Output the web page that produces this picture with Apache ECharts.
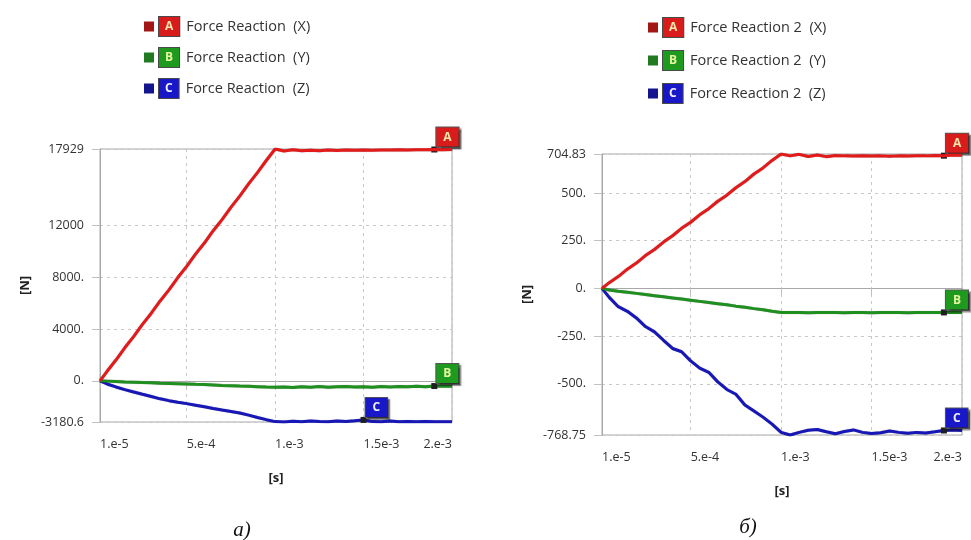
<!DOCTYPE html>
<html>
<head>
<meta charset="utf-8">
<script src="https://cdn.jsdelivr.net/npm/echarts@6/dist/echarts.min.js"></script>
<style>
  html, body { margin: 0; padding: 0; background: #ffffff; }
  #chart { width: 971px; height: 540px; }
</style>
</head>
<body>
<div id="chart"></div>
<script>
// Sample times [s]
const timeS = [
  1e-5, 5e-5, 1e-4, 1.5e-4, 2e-4, 2.5e-4, 3e-4, 3.5e-4, 4e-4, 4.5e-4,
  5e-4, 5.5e-4, 6e-4, 6.5e-4, 7e-4, 7.5e-4, 8e-4, 8.5e-4, 9e-4, 9.5e-4,
  1e-3, 1.05e-3, 1.1e-3, 1.15e-3, 1.2e-3, 1.25e-3, 1.3e-3, 1.35e-3, 1.4e-3, 1.45e-3,
  1.5e-3, 1.55e-3, 1.6e-3, 1.65e-3, 1.7e-3, 1.75e-3, 1.8e-3, 1.85e-3, 1.9e-3, 1.95e-3,
  2e-3
];

// Force Reaction [N]
const reaction1X = [
  0, 740, 1610, 2560, 3420, 4370, 5230, 6180, 7040, 7990,
  8850, 9800, 10660, 11610, 12470, 13420, 14290, 15230, 16100, 17040,
  17929, 17780, 17870, 17790, 17840, 17800, 17850, 17820, 17860, 17830,
  17850, 17840, 17860, 17850, 17870, 17860, 17880, 17870, 17890, 17880,
  17890
];
const reaction1Y = [
  0, -20, -50, -80, -100, -130, -150, -180, -200, -220,
  -240, -270, -290, -320, -350, -370, -400, -420, -450, -480,
  -500, -470, -510, -450, -490, -440, -500, -460, -430, -480,
  -450, -500, -440, -470, -430, -460, -420, -450, -400, -420,
  -410
];
const reaction1Z = [
  0, -240, -470, -680, -860, -1040, -1210, -1390, -1530, -1650,
  -1760, -1880, -2000, -2140, -2260, -2370, -2490, -2650, -2830, -3000,
  -3150, -3180.6, -3120, -3160, -3100, -3140, -3170, -3110, -3150, -3090,
  -3020, -3150, -3170, -3100, -3160, -3140, -3170, -3150, -3170, -3160,
  -3170
];

// Force Reaction 2 [N]
const reaction2X = [
  0, 30, 62, 101, 133, 172, 204, 243, 276, 315,
  347, 386, 418, 457, 489, 528, 560, 600, 632, 671,
  704.83, 695, 703, 692, 700, 691, 697, 695, 694, 696,
  694, 695, 693, 695, 694, 696, 695, 697, 696, 699,
  698
];
const reaction2Y = [
  0, -8, -15, -20, -26, -32, -38, -44, -50, -56,
  -62, -68, -74, -80, -86, -93, -99, -106, -112, -120,
  -126, -127, -126, -128, -127, -126, -127, -128, -126, -127,
  -128, -127, -126, -127, -128, -127, -126, -127, -126, -125,
  -126
];
const reaction2Z = [
  0, -47, -96, -120, -155, -200, -228, -272, -315, -332,
  -380, -418, -440, -490, -530, -555, -611, -643, -675, -712,
  -755, -768.75, -755, -744, -740, -752, -762, -750, -742, -755,
  -761, -757, -748, -755, -760, -755, -758, -752, -745, -742,
  -745
];

// Series names and probe letters
const seriesNames1 = ['Force Reaction  (X)', 'Force Reaction  (Y)', 'Force Reaction  (Z)'];
const seriesNames2 = ['Force Reaction 2  (X)', 'Force Reaction 2  (Y)', 'Force Reaction 2  (Z)'];
const probeLetters = ['A', 'B', 'C'];
// sample index where each probe tag sits
const probeIndex1 = [38, 38, 30];
const probeIndex2 = [38, 38, 38];

// Axis ticks and labels
const xTickValues = [1e-5, 5e-4, 1e-3, 1.5e-3, 2e-3];
const xTickLabels = ['1.e-5', '5.e-4', '1.e-3', '1.5e-3', '2.e-3'];
const yTickValues1 = [-3180.6, 0, 4000, 8000, 12000, 17929];
const yTickLabels1 = ['-3180.6', '0.', '4000.', '8000.', '12000', '17929'];
const yTickValues2 = [-768.75, -500, -250, 0, 250, 500, 704.83];
const yTickLabels2 = ['-768.75', '-500.', '-250.', '0.', '250.', '500.', '704.83'];

const captions = ['а)', 'б)'];

// Colours
const lineColors = ['#e41a1a', '#1f8f1f', '#1717b8'];
const iconColors = ['#a31616', '#217a21', '#14148f'];
const boxColors = ['#d81c1c', '#1e9a1e', '#1818c8'];
const boxText = ['#f6e7a6', '#e8f5a0', '#f0f0ff'];
const uiFont = '"Open Sans", "Noto Sans", sans-serif';

function labelFor(values, labels) {
  return function (v) {
    let best = 0;
    for (let i = 1; i < values.length; i++) {
      if (Math.abs(values[i] - v) < Math.abs(values[best] - v)) best = i;
    }
    return labels[best];
  };
}

const boxRich = {};
probeLetters.forEach((L, i) => {
  boxRich['b' + L] = {
    backgroundColor: boxColors[i], color: boxText[i],
    fontSize: 12, fontWeight: 'bold', fontFamily: uiFont,
    padding: [4, 6, 3, 6], borderColor: '#4a4a4a', borderWidth: 1
  };
});

function makeLegend(names, left, top, gap) {
  return {
    orient: 'vertical', left: left, top: top,
    itemGap: gap, itemWidth: 10, itemHeight: 10, icon: 'rect',
    selectedMode: false,
    data: names.map((n, i) => ({ name: n, itemStyle: { color: iconColors[i] } })),
    formatter: function (name) {
      const i = names.indexOf(name);
      return '{b' + probeLetters[i] + '|' + probeLetters[i] + '}{t|' + name + '}';
    },
    textStyle: {
      rich: Object.assign({}, boxRich, {
        t: { fontSize: 14.5, color: '#333', fontFamily: uiFont, padding: [0, 0, 0, 7] }
      })
    }
  };
}

function makeXAxis(gi) {
  return {
    type: 'value', gridIndex: gi, min: 1e-5, max: 2e-3,
    name: '[s]', nameLocation: 'middle', nameGap: 50,
    nameTextStyle: { fontSize: 13, fontWeight: 'bold', color: '#222', fontFamily: uiFont },
    axisLine: { show: true, lineStyle: { color: '#a8a8a8' } },
    axisTick: { show: true, length: 8, lineStyle: { color: '#c0c0c0' }, customValues: xTickValues },
    axisLabel: {
      customValues: xTickValues, align: 'left', alignMaxLabel: 'right',
      margin: 16, fontSize: 12.5, color: '#333', fontFamily: uiFont,
      formatter: labelFor(xTickValues, xTickLabels)
    },
    splitLine: { show: true, lineStyle: { color: '#c8c8c8', type: [3, 4] } }
  };
}

function makeYAxis(gi, vals, labels) {
  return {
    type: 'value', gridIndex: gi, min: vals[0], max: vals[vals.length - 1],
    name: '[N]', nameLocation: 'middle', nameGap: 68, nameRotate: 90,
    nameTextStyle: { fontSize: 13, fontWeight: 'bold', color: '#222', fontFamily: uiFont },
    axisLine: { show: true, lineStyle: { color: '#a8a8a8' } },
    axisTick: { show: true, length: 8, lineStyle: { color: '#c0c0c0' }, customValues: vals },
    axisLabel: {
      customValues: vals, margin: 16, fontSize: 12.5, color: '#333', fontFamily: uiFont,
      formatter: labelFor(vals, labels)
    },
    splitLine: { show: true, lineStyle: { color: '#c8c8c8', type: [3, 4] } }
  };
}

function makeSeries(name, values, k, gi, idx) {
  return {
    type: 'line', name: name, xAxisIndex: gi, yAxisIndex: gi,
    data: timeS.map((t, i) => [t, values[i]]),
    showSymbol: false, symbol: 'none', animation: false, z: 3 - k + 2,
    lineStyle: { width: 3, color: lineColors[k], shadowColor: 'rgba(0,0,0,0.35)', shadowBlur: 1 },
    itemStyle: { color: lineColors[k] },
    markPoint: {
      symbol: 'rect', symbolSize: 6, animation: false,
      itemStyle: { color: '#1e1e1e' },
      label: {
        show: true, position: [5, -19], align: 'left', verticalAlign: 'top',
        formatter: probeLetters[k],
        backgroundColor: boxColors[k], color: boxText[k],
        fontSize: 12, fontWeight: 'bold', fontFamily: uiFont,
        padding: [4, 7, 3, 7], borderColor: '#555', borderWidth: 1,
        shadowColor: 'rgba(0,0,0,0.45)', shadowOffsetX: 2, shadowOffsetY: 2, shadowBlur: 1
      },
      data: [{ coord: [timeS[idx], values[idx]] }]
    }
  };
}

const chart = echarts.init(document.getElementById('chart'), null, { renderer: 'canvas' });
chart.setOption({
  backgroundColor: '#ffffff',
  animation: false,
  title: [
    { text: captions[0], left: 237, top: 515, textAlign: 'center',
      textStyle: { fontFamily: '"Liberation Serif", "DejaVu Serif", serif', fontStyle: 'italic', fontWeight: 'normal', fontSize: 21, color: '#111' } },
    { text: captions[1], left: 743, top: 512, textAlign: 'center',
      textStyle: { fontFamily: '"Liberation Serif", "DejaVu Serif", serif', fontStyle: 'italic', fontWeight: 'normal', fontSize: 21, color: '#111' } }
  ],
  legend: [
    makeLegend(seriesNames1, 139, 11, 10),
    makeLegend(seriesNames2, 643, 12, 12)
  ],
  grid: [
    { left: 100, right: 519, top: 149, bottom: 118, show: true, borderColor: '#a8a8a8', borderWidth: 1, containLabel: false },
    { left: 602, right: 9, top: 154, bottom: 105, show: true, borderColor: '#a8a8a8', borderWidth: 1, containLabel: false }
  ],
  xAxis: [makeXAxis(0), makeXAxis(1)],
  yAxis: [makeYAxis(0, yTickValues1, yTickLabels1), makeYAxis(1, yTickValues2, yTickLabels2)],
  series: [
    makeSeries(seriesNames1[0], reaction1X, 0, 0, probeIndex1[0]),
    makeSeries(seriesNames1[1], reaction1Y, 1, 0, probeIndex1[1]),
    makeSeries(seriesNames1[2], reaction1Z, 2, 0, probeIndex1[2]),
    makeSeries(seriesNames2[0], reaction2X, 0, 1, probeIndex2[0]),
    makeSeries(seriesNames2[1], reaction2Y, 1, 1, probeIndex2[1]),
    makeSeries(seriesNames2[2], reaction2Z, 2, 1, probeIndex2[2])
  ]
});
</script>
</body>
</html>
